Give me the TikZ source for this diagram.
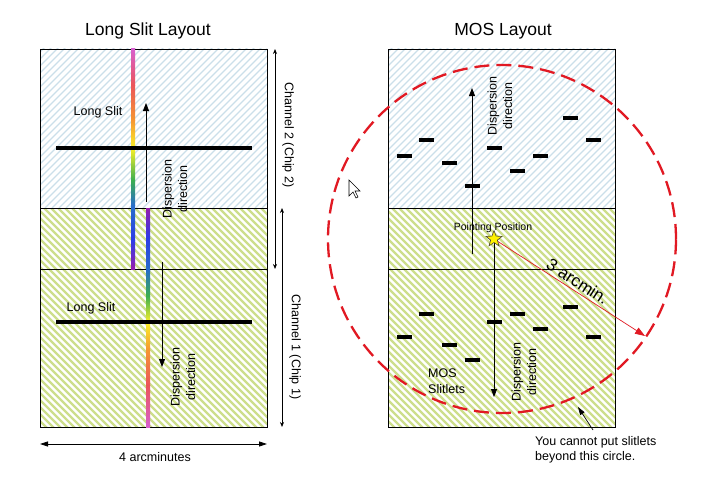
\documentclass[tikz,border=0pt]{standalone}
\usepackage{fontspec}
\setmainfont{Liberation Sans}
\usetikzlibrary{arrows.meta,shapes.geometric}

\definecolor{hatchblue}{RGB}{203,223,234}
\definecolor{hatchgreen}{RGB}{205,222,140}
\definecolor{circred}{RGB}{225,25,35}
\definecolor{rbpink}{RGB}{215,95,205}
\definecolor{rbred}{RGB}{235,85,90}
\definecolor{rborange}{RGB}{245,150,50}
\definecolor{rbyellow}{RGB}{250,240,40}
\definecolor{rbgreen}{RGB}{60,175,80}
\definecolor{rbteal}{RGB}{40,110,200}
\definecolor{rbblue}{RGB}{45,60,230}
\definecolor{rbpurple}{RGB}{150,30,175}

\tikzset{
  body/.style={font=\fontsize{12.5}{15.5}\selectfont, inner sep=0pt, align=center},
  small/.style={font=\fontsize{10.5}{12}\selectfont, inner sep=0pt},
  ttl/.style={font=\fontsize{17.5}{20}\selectfont, inner sep=0pt},
  slitlet/.style={rectangle, fill=black, draw=none, minimum width=15pt, minimum height=4pt, inner sep=0pt},
  arr/.style={-{Triangle[length=8pt,width=6pt]}, line width=0.8pt},
  chanarr/.style={{Stealth[length=5pt,width=4pt]}-{Stealth[length=5pt,width=4pt]}, line width=0.7pt},
  dimarr/.style={{Triangle[length=8pt,width=5pt]}-{Triangle[length=8pt,width=5pt]}, line width=0.8pt},
  frame/.style={draw=black, line width=0.8pt},
  longslit/.style={line width=4pt, black},
}

\begin{document}
\begin{tikzpicture}[x=1pt,y=-1pt]
\useasboundingbox (0,0) rectangle (711,487);
\fill[white] (0,0) rectangle (711,487);

% ---------- hatched panels ----------
\foreach \px in {40,388} {
  \begin{scope}
    \clip (\px,49) rectangle (\px+227,208);
    \foreach \i in {-170,-163,...,235}
      \draw[hatchblue, line width=1.1pt] (\px+\i,208) -- ++(180,-180);
  \end{scope}
  \begin{scope}
    \clip (\px,208) rectangle (\px+227,427);
    \foreach \i in {-230,-223,...,235}
      \draw[hatchgreen, line width=2.4pt] (\px+\i,205) -- ++(240,240);
  \end{scope}
  \draw[frame] (\px,208) -- (\px+227,208);
  \draw[line width=0.7pt] (\px,269) -- (\px+227,269);
  \draw[frame] (\px,49) rectangle (\px+227,427);
}

% ---------- titles ----------
\node[ttl] (t1) at (148,31) {Long Slit Layout};
\node[ttl] (t2) at (503,31) {MOS Layout};

% ---------- Long slit panel ----------
% rainbow spectra
\foreach \ya/\ca/\yb/\cb in {49/rbpink/85/rbred, 85/rbred/120/rborange, 120/rborange/148/rbyellow,
    148/rbyellow/180/rbgreen, 180/rbgreen/205/rbteal, 205/rbteal/240/rbblue, 240/rbblue/269/rbpurple}
  \shade[top color=\ca, bottom color=\cb] (131,\ya) rectangle (135,\yb);
\foreach \ya/\ca/\yb/\cb in {208/rbpurple/238/rbblue, 238/rbblue/270/rbteal, 270/rbteal/296/rbgreen,
    296/rbgreen/322/rbyellow, 322/rbyellow/350/rborange, 350/rborange/385/rbred, 385/rbred/427/rbpink}
  \shade[top color=\ca, bottom color=\cb] (146,\ya) rectangle (150,\yb);

% slits
\coordinate (s1a) at (56,148);
\coordinate (s1b) at (252,148);
\draw[longslit] (s1a) -- (s1b);
\coordinate (s2a) at (56,322);
\coordinate (s2b) at (252,322);
\draw[longslit] (s2a) -- (s2b);

\node[body, anchor=base] (ls1) at (98,115) {Long Slit};
\node[body, anchor=base] (ls2) at (91,311) {Long Slit};

% dispersion arrows
\coordinate (d1a) at (146,202);
\coordinate (d1b) at (146,103);
\draw[arr] (d1a) -- (d1b);
\coordinate (d2a) at (162,262);
\coordinate (d2b) at (162,367);
\draw[arr] (d2a) -- (d2b);
\node[body, rotate=90] (dd1) at (175,189) {Dispersion\\direction};
\node[body, rotate=90] (dd2) at (183,377) {Dispersion\\direction};

% channel arrows
\coordinate (c2a) at (275,49);
\coordinate (c2b) at (275,269);
\draw[chanarr] (c2a) -- (c2b);
\coordinate (c1a) at (282,208);
\coordinate (c1b) at (282,427);
\draw[chanarr] (c1a) -- (c1b);
\node[body, rotate=-90] (ch2) at (288,135) {Channel 2 (Chip 2)};
\node[body, rotate=-90] (ch1) at (295,347) {Channel 1 (Chip 1)};

% width arrow
\coordinate (w1) at (40,444);
\coordinate (w2) at (267,444);
\draw[dimarr] (w1) -- (w2);
\node[body, anchor=base] (wl) at (155,461) {4 arcminutes};

% ---------- MOS panel ----------
\foreach \n/\x/\y in {a/404/156, b/426/140, c/449/163, d/472/186, e/494/148, f/517/171,
    g/540/156, h/570/118, i/593/140,
    j/404/337, k/426/314, l/449/345, m/472/360, n/494/322, o/517/314, p/540/329,
    q/570/307, r/593/337}
  \node[slitlet] (sl\n) at (\x,\y) {};

\coordinate (pp) at (494,239);
\coordinate (mu1) at (472,254);
\coordinate (mu2) at (472,88);
\draw[arr] (mu1) -- (mu2);
\coordinate (md2) at (494,397);
\draw[arr] (pp) -- (md2);

\node[body, rotate=90] (md1l) at (500,106) {Dispersion\\direction};
\node[body, rotate=90] (md2l) at (524,372) {Dispersion\\direction};

% circle
\draw[circred, line width=2.3pt, dash pattern=on 15pt off 7pt] (502,239) circle[radius=174pt];

\coordinate (rim) at (645,336);
\draw[circred, line width=0.7pt, -{Triangle[length=10pt,width=7pt]}] (pp) -- node[pos=0.52, sloped, above=3pt, font=\fontsize{17}{20}\selectfont, text=black, inner sep=0pt] (arcm) {3 arcmin.} (rim);

\node[small, anchor=base] (ppl) at (493,230) {Pointing Position};
\node[star, star points=5, star point ratio=2.4, fill=yellow, draw=black!60!olive, line width=0.6pt,
      minimum size=17pt, inner sep=0pt] (st) at (pp) {};

\node[body, align=left, anchor=west] (mos) at (428,381) {MOS\\Slitlets};

\node[body, align=left, anchor=north west] (cant) at (535,436) {You cannot put slitlets\\beyond this circle.};
\coordinate (ca1) at (593,430);
\coordinate (ca2) at (578,407);
\draw[-{Triangle[length=8pt,width=5pt]}, line width=0.7pt] (ca1) -- (ca2);

% mouse cursor
\coordinate (cur) at (349,180);
\draw[fill=white, line width=0.6pt, line join=miter]
  (cur) -- ++(0,16) -- ++(4,-4) -- ++(3,6) -- ++(2,-1) -- ++(-3,-6) -- ++(5,0) -- cycle;
\end{tikzpicture}
\end{document}
